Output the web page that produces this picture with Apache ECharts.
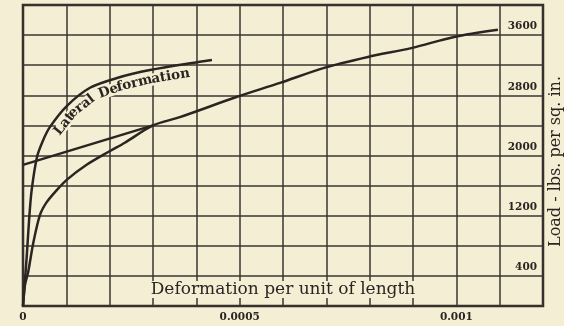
<!DOCTYPE html>
<html>
<head>
<meta charset="utf-8">
<script src="https://cdn.jsdelivr.net/npm/echarts@6/dist/echarts.min.js"></script>
<style>
  html, body { margin: 0; padding: 0; background: #f4eed5; }
  #chart { width: 564px; height: 326px; }
</style>
</head>
<body>
<div id="chart"></div>
<script>
// Lateral deformation vs. load
const lateralStrain = [0, 0.0000085, 0.0000145, 0.00002, 0.0000323, 0.0000462, 0.0000623, 0.0001015, 0.0001546, 0.000217, 0.000293, 0.000408, 0.000436];
const lateralLoad   = [0, 650, 1180, 1540, 1980, 2200, 2380, 2660, 2900, 3030, 3135, 3245, 3270];

// Longitudinal deformation vs. load
const longStrain = [0, 0.0000046, 0.0000122, 0.0000238, 0.0000392, 0.0000547, 0.0000778, 0.0001015, 0.0001477, 0.0002008, 0.000235, 0.0003, 0.000362, 0.000494, 0.000593, 0.000695, 0.000796, 0.000898, 0.000995, 0.001096];
const longLoad   = [0, 280, 460, 840, 1210, 1380, 1540, 1680, 1880, 2060, 2170, 2400, 2510, 2780, 2965, 3165, 3310, 3430, 3575, 3670];

// Straight line from point A to where it joins the longitudinal curve
const tangentStrain = [0, 0.0003];
const tangentLoad   = [1875, 2400];

// Tick labels
const xTickLabels = { 0: '0', 5: '0.0005', 10: '0.001' };
const yTickLabels = [400, 1200, 2000, 2800, 3600];

const curveLabel = 'Lateral Deformation';
const xName = 'Deformation per unit of length';
const yName = 'Load - lbs. per sq. in.';

const PAPER = '#f4eed5';
const INK = '#2c2421';
const GRID = '#3d3431';

const pairs = (xs, ys) => xs.map((x, i) => [x, ys[i]]);

const chart = echarts.init(document.getElementById('chart'), null, { renderer: 'canvas' });

chart.setOption({
  backgroundColor: PAPER,
  animation: false,
  grid: {
    left: 23, right: 21, top: 5, bottom: 20,
    containLabel: false, outerBoundsMode: 'none',
    show: true, borderColor: INK, borderWidth: 2.5, backgroundColor: 'transparent'
  },
  xAxis: {
    type: 'value', min: 0, max: 0.0012, interval: 0.0001,
    axisLine: { show: false }, axisTick: { show: false },
    splitLine: { show: true, lineStyle: { color: GRID, width: 1.5 } },
    axisLabel: {
      margin: 6,
      color: INK, fontFamily: 'DejaVu Serif', fontWeight: 'bold', fontSize: 10.5,
      formatter: v => {
        const k = Math.round(v / 0.0001);
        return xTickLabels[k] !== undefined ? xTickLabels[k] : '';
      }
    },
    name: xName, nameLocation: 'middle', nameGap: -25,
    nameTextStyle: {
      color: INK, fontFamily: 'DejaVu Serif', fontSize: 17,
      backgroundColor: PAPER, padding: [0, 3, 0, 3]
    }
  },
  yAxis: {
    type: 'value', position: 'right', min: 0, max: 4000, interval: 400,
    axisLine: { show: false }, axisTick: { show: false },
    splitLine: { show: true, lineStyle: { color: GRID, width: 1.5 } },
    axisLabel: {
      inside: true, margin: 6, verticalAlign: 'bottom', padding: [0, 0, 3, 0],
      color: INK, fontFamily: 'DejaVu Serif', fontWeight: 'bold', fontSize: 10.5,
      formatter: v => (yTickLabels.indexOf(v) >= 0 ? String(v) : '')
    },
    name: yName, nameLocation: 'middle', nameGap: 4, nameRotate: 90,
    nameTextStyle: {
      color: INK, fontFamily: 'DejaVu Serif', fontSize: 16,
      verticalAlign: 'bottom', padding: [0, 12, 0, 0]
    }
  },
  series: [
    {
      name: 'lateral', type: 'line', data: pairs(lateralStrain, lateralLoad),
      smooth: 0.3, showSymbol: false, z: 3,
      lineStyle: { color: INK, width: 2.5 }
    },
    {
      name: 'longitudinal', type: 'line', data: pairs(longStrain, longLoad),
      smooth: 0.3, showSymbol: false, z: 3,
      lineStyle: { color: INK, width: 2.5 }
    },
    {
      name: 'tangent', type: 'line', data: pairs(tangentStrain, tangentLoad),
      showSymbol: false, symbol: 'none', z: 3,
      lineStyle: { color: INK, width: 2.5 },
      label: {
        show: true, position: 'left', distance: 5,
        color: INK, fontFamily: 'DejaVu Serif', fontSize: 14,
        formatter: p => (p.dataIndex === 0 ? 'A' : '')
      }
    }
  ]
});

// Set the curve label along the lateral curve, letter by letter
function placeCurveLabel() {
  const pts = lateralStrain.map((x, i) => chart.convertToPixel({ seriesIndex: 0 }, [x, lateralLoad[i]]));
  const cum = [0];
  for (let i = 1; i < pts.length; i++) {
    cum.push(cum[i - 1] + Math.hypot(pts[i][0] - pts[i - 1][0], pts[i][1] - pts[i - 1][1]));
  }
  function at(s) {
    let i = 1;
    while (i < pts.length - 1 && cum[i] < s) i++;
    const a = pts[i - 1], b = pts[i];
    const seg = cum[i] - cum[i - 1];
    const t = seg > 0 ? (s - cum[i - 1]) / seg : 0;
    const dx = (b[0] - a[0]) / seg, dy = (b[1] - a[1]) / seg;
    return { x: a[0] + (b[0] - a[0]) * t, y: a[1] + (b[1] - a[1]) * t, tx: dx, ty: dy };
  }
  const font = 'bold 13.5px "DejaVu Serif"';
  const ctx = document.createElement('canvas').getContext('2d');
  ctx.font = font;
  const offset = 9.5;
  const total = cum[cum.length - 1];
  // widen the word gap a little
  const advance = ch => ctx.measureText(ch).width * (ch === ' ' ? 2 : 1);
  let textLen = 0;
  for (const ch of curveLabel) textLen += advance(ch);
  let s = total - textLen - 24;
  const elems = [];
  const mask = [];
  for (const ch of curveLabel) {
    const w = advance(ch);
    const p = at(s + w / 2);
    const nx = -p.ty, ny = p.tx;
    const cx = p.x + nx * offset, cy = p.y + ny * offset;
    mask.push([cx, cy]);
    if (ch !== ' ') {
      elems.push({
        type: 'text', x: cx, y: cy, rotation: Math.atan2(-p.ty, p.tx), z: 10,
        style: {
          text: ch, font: font, fill: INK,
          align: 'center', verticalAlign: 'middle',
          textAlign: 'center', textVerticalAlign: 'middle'
        }
      });
    }
    s += w;
  }
  elems.unshift({
    type: 'polyline', z: 1, silent: true,
    shape: { points: mask },
    style: { stroke: PAPER, lineWidth: 12, fill: null, lineCap: 'butt', lineJoin: 'round' }
  });
  chart.setOption({ graphic: { elements: elems } });
}
placeCurveLabel();
</script>
</body>
</html>
